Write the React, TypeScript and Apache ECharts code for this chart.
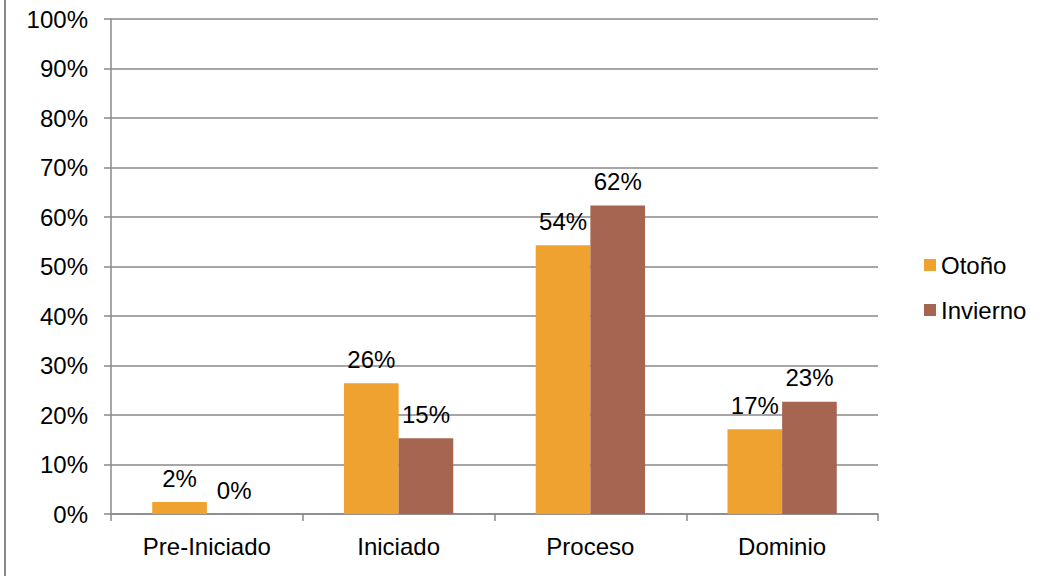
import React, { useEffect, useRef } from "react";
import * as echarts from "echarts";

const categories = ["Pre-Iniciado", "Iniciado", "Proceso", "Dominio"];
const otono = [2.4, 26.4, 54.3, 17.1];
const invierno = [0, 15.3, 62.3, 22.7];
const yTicks = [0, 10, 20, 30, 40, 50, 60, 70, 80, 90, 100];

const FONT = "Liberation Sans, Arial, sans-serif";
const GRAY = "#898989";

export default function App() {
  const ref = useRef<HTMLDivElement>(null);
  useEffect(() => {
    document.body.style.margin = "0";
    const chart = echarts.init(ref.current!, null, { renderer: "svg" });
    const label = {
      show: true,
      position: "top",
      distance: 12,
      fontSize: 24,
      fontFamily: FONT,
      color: "#000",
      formatter: (p: any) => Math.round(p.value) + "%",
    };
    chart.setOption({
      animation: false,
      backgroundColor: "#fff",
      textStyle: { fontFamily: FONT },
      grid: { left: 111, right: 170, top: 19, bottom: 62, containLabel: false },
      legend: {
        orient: "vertical",
        left: 919,
        top: 248,
        icon: "rect",
        itemWidth: 12,
        itemHeight: 12,
        itemGap: 21,
        textStyle: { fontSize: 24, fontFamily: FONT, color: "#000", lineHeight: 24 },
        data: ["Otoño", "Invierno"],
      },
      xAxis: {
        type: "category",
        data: categories,
        axisLine: { lineStyle: { color: GRAY, width: 1.5 } },
        axisTick: { show: true, length: 7, lineStyle: { color: GRAY, width: 1.5 } },
        axisLabel: { fontSize: 24, fontFamily: FONT, color: "#000", margin: 20 },
      },
      yAxis: {
        type: "value",
        min: 0,
        max: 100,
        interval: 10,
        axisLine: { show: true, lineStyle: { color: GRAY, width: 1.5 } },
        axisTick: { show: true, length: 7, lineStyle: { color: GRAY, width: 1.5 } },
        splitLine: { lineStyle: { color: GRAY, width: 1.5 } },
        axisLabel: {
          fontSize: 24,
          fontFamily: FONT,
          color: "#000",
          margin: 23,
          formatter: (v: number) => (yTicks.includes(v) ? v + "%" : ""),
        },
      },
      series: [
        {
          name: "Otoño",
          type: "bar",
          data: otono,
          barGap: "0%",
          barCategoryGap: "43%",
          itemStyle: { color: "#EFA22F" },
          label,
        },
        {
          name: "Invierno",
          type: "bar",
          data: invierno,
          barGap: "0%",
          barCategoryGap: "43%",
          itemStyle: { color: "#A66550" },
          label,
        },
      ],
      graphic: [
        {
          type: "line",
          shape: { x1: 5, y1: 0, x2: 5, y2: 576 },
          style: { stroke: GRAY, lineWidth: 2 },
        },
      ],
    });
    return () => chart.dispose();
  }, []);
  return <div ref={ref} style={{ width: 1048, height: 576 }} />;
}
